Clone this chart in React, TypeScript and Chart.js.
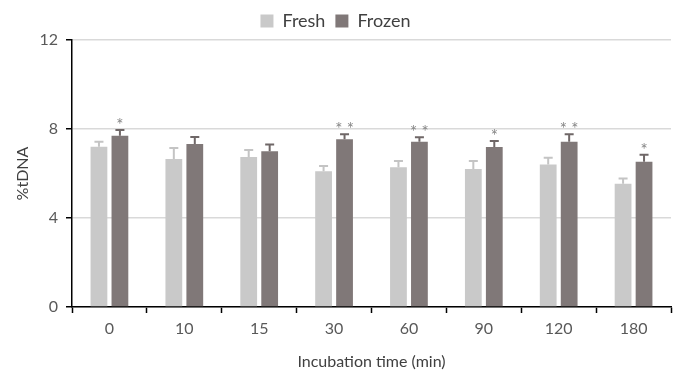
import React, { useEffect, useRef } from "react";
import { Chart, registerables } from "chart.js";

Chart.register(...registerables);

const categories = ["0", "10", "15", "30", "60", "90", "120", "180"];
const freshValues = [7.2, 6.65, 6.74, 6.1, 6.28, 6.2, 6.41, 5.54];
const freshErrors = [0.23, 0.5, 0.32, 0.24, 0.28, 0.36, 0.3, 0.23];
const frozenValues = [7.7, 7.33, 7.0, 7.54, 7.43, 7.19, 7.43, 6.53];
const frozenErrors = [0.26, 0.31, 0.3, 0.22, 0.2, 0.27, 0.33, 0.31];
const frozenSignificance = ["*", "", "", "**", "**", "*", "**", "*"];
const freshSignificance = ["", "", "", "", "", "", "", ""];
const yTicks = [0, 4, 8, 12];

const FONT = "Lato, 'Open Sans', sans-serif";

export default function App() {
  const ref = useRef<HTMLCanvasElement | null>(null);

  useEffect(() => {
    if (!ref.current) return;
    const errors = [freshErrors, frozenErrors];
    const sigs = [freshSignificance, frozenSignificance];
    const errColors = ["#c4c4c4", "#6f6767"];

    const errorPlugin = {
      id: "errorBars",
      afterDatasetsDraw(chart: any) {
        const ctx = chart.ctx;
        const y = chart.scales.y;
        chart.data.datasets.forEach((ds: any, di: number) => {
          const meta = chart.getDatasetMeta(di);
          meta.data.forEach((bar: any, i: number) => {
            const v = ds.data[i];
            const e = errors[di][i];
            const yTop = y.getPixelForValue(v + e);
            ctx.save();
            ctx.strokeStyle = errColors[di];
            ctx.lineWidth = 2;
            ctx.beginPath();
            ctx.moveTo(bar.x, bar.y);
            ctx.lineTo(bar.x, yTop);
            ctx.moveTo(bar.x - 4.5, yTop);
            ctx.lineTo(bar.x + 4.5, yTop);
            ctx.stroke();
            const s = sigs[di][i];
            if (s) {
              ctx.fillStyle = "#858585";
              ctx.font = `17px ${FONT}`;
              ctx.textAlign = "center";
              ctx.textBaseline = "alphabetic";
              const txt = s.split("").join(" ");
              ctx.fillText(txt, bar.x, yTop + 1);
            }
            ctx.restore();
          });
        });
      },
    };

    const chart = new Chart(ref.current, {
      type: "bar",
      data: {
        labels: categories,
        datasets: [
          {
            label: "Fresh",
            data: freshValues,
            backgroundColor: "#c9c9c9",
            categoryPercentage: 0.56,
            barPercentage: 0.8,
          },
          {
            label: "Frozen",
            data: frozenValues,
            backgroundColor: "#807878",
            categoryPercentage: 0.56,
            barPercentage: 0.8,
          },
        ],
      },
      options: {
        responsive: false,
        animation: false,
        layout: { padding: { top: 2, right: 7, left: 0, bottom: 0 } },
        plugins: {
          legend: {
            position: "top",
            align: "center",
            labels: {
              boxWidth: 13,
              boxHeight: 13,
              color: "#404040",
              font: { family: FONT, size: 18 },
              padding: 10,
            },
          },
          tooltip: { enabled: false },
        },
        scales: {
          x: {
            grid: {
              offset: true,
              drawOnChartArea: false,
              drawTicks: true,
              tickLength: 6,
              tickColor: "#000",
              tickWidth: 1.5,
            },
            border: { color: "#000", width: 1.5 },
            ticks: { color: "#595959", font: { family: FONT, size: 16 }, padding: 6 },
            title: {
              display: true,
              text: "Incubation time (min)",
              color: "#404040",
              font: { family: FONT, size: 16 },
              padding: { top: 2, bottom: 0 },
            },
            afterFit(scale: any) {
              scale.height = 64;
            },
          },
          y: {
            min: 0,
            max: 12,
            afterBuildTicks(scale: any) {
              scale.ticks = yTicks.map((v) => ({ value: v }));
            },
            grid: {
              color: "#d9d9d9",
              lineWidth: 1.5,
              tickColor: "#000",
              tickLength: 6,
              tickWidth: 1.5,
            },
            border: { color: "#000", width: 1.5 },
            ticks: { color: "#595959", font: { family: FONT, size: 16 }, padding: 8 },
            title: {
              display: true,
              text: "%tDNA",
              color: "#404040",
              font: { family: FONT, size: 16 },
              padding: { top: 13, bottom: 0 },
            },
            afterFit(scale: any) {
              scale.width = 72;
            },
          },
        },
      },
      plugins: [errorPlugin],
    });
    return () => chart.destroy();
  }, []);

  return (
    <div style={{ position: "absolute", left: 0, top: 0, width: 678, height: 371, background: "#fff" }}>
      <canvas ref={ref} width={678} height={371} style={{ display: "block" }} />
    </div>
  );
}
